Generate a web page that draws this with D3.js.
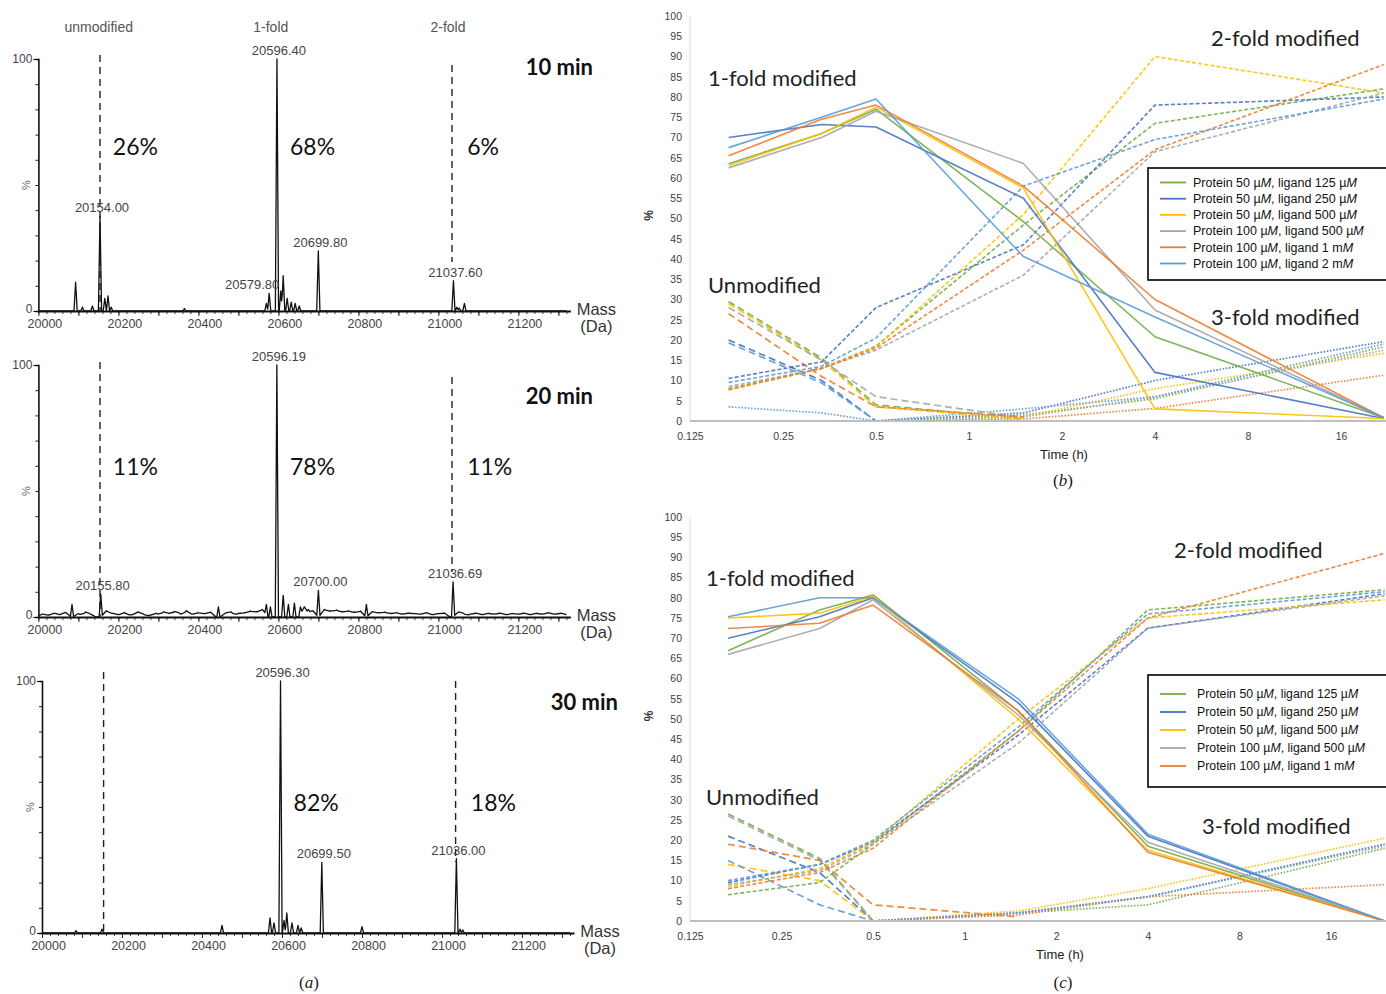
<!DOCTYPE html>
<html><head><meta charset="utf-8">
<script src="https://cdn.jsdelivr.net/npm/d3@7/dist/d3.min.js"></script>
<style>
html,body{margin:0;padding:0;background:#fff;}
svg{display:block;}
</style></head>
<body>
<svg id="fig" width="1386" height="994" xmlns="http://www.w3.org/2000/svg"></svg>
<script>
// ================= Panel (a): deconvoluted mass spectra =================
const massTicks = [20000, 20200, 20400, 20600, 20800, 21000, 21200];
const spectrumTimes = ["10 min", "20 min", "30 min"];
const speciesHeaders = ["unmodified", "1-fold", "2-fold"];
const headerMasses = [20151, 20581, 21024];
const refLineMasses = [20154, 21034];
const pctMasses = [20186, 20629, 21072];
const pct10 = ["26%", "68%", "6%"];
const pct20 = ["11%", "78%", "11%"];
const pct30 = ["", "82%", "18%"];

// [mass (Da), relative intensity (%)]
const peaks10 = [[20093, 11.4], [20110, 1.5], [20135, 2], [20154, 37.6], [20166, 5], [20174, 6], [20182, 1.5],
  [20365, 1], [20570, 3], [20577, 7], [20596.4, 100], [20606, 8], [20612, 14], [20622, 5], [20632, 3.5],
  [20642, 3], [20652, 2], [20699.8, 23.8], [21037.6, 12], [21046, 1.5], [21052, 1.2], [21065, 3]];
const peaks20 = [[20084, 5], [20155.8, 9.2], [20450, 4], [20570, 5], [20580, 4], [20596.19, 100], [20612, 8.6],
  [20625, 5], [20640, 5.5], [20655, 4], [20700, 10.6], [20820, 5], [21036.69, 13.9]];
const noise20 = [[20010, 1.2], [20025, 0.8], [20040, 1.5], [20055, 1], [20068, 1.8], [20100, 1.4], [20118, 2],
  [20130, 1.2], [20170, 2.5], [20185, 1.5], [20200, 1], [20215, 1.8], [20232, 1], [20248, 2], [20262, 1.2],
  [20280, 0.8], [20295, 1.5], [20312, 2], [20325, 1.5], [20340, 2.2], [20352, 1.6], [20370, 2.5], [20385, 1.2],
  [20400, 1.8], [20415, 1.4], [20430, 2], [20468, 1.6], [20482, 2], [20500, 1.5], [20515, 1.8], [20530, 2.4],
  [20545, 2.2], [20560, 3], [20665, 4], [20675, 3], [20686, 2.5], [20715, 3], [20730, 2.5], [20745, 2.8],
  [20760, 2.2], [20775, 2.5], [20790, 2], [20805, 2.4], [20835, 2.2], [20850, 1.8], [20865, 2], [20880, 1.5],
  [20895, 1.8], [20910, 1.2], [20925, 1.6], [20940, 1.4], [20955, 1.2], [20970, 1.8], [20985, 1], [21000, 1.4],
  [21015, 1.6], [21050, 2], [21062, 1.5], [21080, 1.2], [21095, 1.6], [21110, 1], [21125, 1.5], [21140, 1.2],
  [21155, 1.6], [21170, 1], [21185, 1.4], [21200, 1.2], [21215, 1.6], [21230, 1], [21245, 1.5], [21260, 1.2],
  [21275, 1.8], [21290, 1.2], [21305, 1.5], [21318, 1]];
const peaks30 = [[20085, 1], [20150, 1.5], [20450, 3], [20570, 6], [20580, 4], [20596.3, 100], [20605, 5],
  [20612, 8], [20625, 4], [20640, 3], [20648, 2], [20699.5, 28], [20800, 2.5], [21036, 29.5], [21045, 1.5], [21052, 1.2]];

const labels10 = [["20154.00", 20154], ["20596.40", 20596.4], ["20579.80", 20579.8], ["20699.80", 20699.8], ["21037.60", 21037.6]];
const labels20 = [["20155.80", 20155.8], ["20596.19", 20596.19], ["20700.00", 20700], ["21036.69", 21036.69]];
const labels30 = [["20596.30", 20596.3], ["20699.50", 20699.5], ["21036.00", 21036]];

// ================= Panels (b), (c): kinetics =================
const timeTicks = [0.125, 0.25, 0.5, 1, 2, 4, 8, 16];
const pctTicks = [0, 5, 10, 15, 20, 25, 30, 35, 40, 45, 50, 55, 60, 65, 70, 75, 80, 85, 90, 95, 100];
const legendB = ["Protein 50 µM, ligand 125 µM", "Protein 50 µM, ligand 250 µM", "Protein 50 µM, ligand 500 µM",
  "Protein 100 µM, ligand 500 µM", "Protein 100 µM, ligand 1 mM", "Protein 100 µM, ligand 2 mM"];
const legendC = legendB.slice(0, 5);

// time points (h): 10 min, 20 min, 30 min, 1.5 h, 4 h, final
const timesB = [1 / 6, 1 / 3, 0.5, 1.5, 4, 22];
// rows = conditions in legend order
const unmodB = [[29.5, 15.5, 4, 0.5], [20, 10, 0, 0], [29, 15, 3.5, 0.5], [28, 15, 6, 0.8], [26.5, 11, 3.5, 1], [19.3, 9.4, 0, 0]];
const oneB = [[63.5, 71, 77, 49.2, 20.8, 0.8], [70, 73.2, 72.6, 55, 12, 0.6], [63, 71, 77.5, 57.5, 3, 0.6],
  [62.5, 70, 76.5, 63.6, 27.4, 0.8], [65.5, 74.5, 78, 58, 30, 0.8], [67.5, 75, 79.5, 40.6, 25.7, 0.8]];
const twoB = [[8, 13, 18.5, 48.4, 73.5, 82], [10.5, 14.6, 28, 43.5, 78, 80], [7.7, 13, 18.3, 51, 90, 81],
  [8.5, 13, 17.5, 36, 66.5, 81], [7.7, 13, 18, 42.2, 67, 88], [9.5, 13.5, 20.5, 58, 69.5, 79.5]];
const threeB = [[0, 0, 0, 1.5, 5.5, 18.3], [0, 0, 0, 2, 10, 19.6], [0, 0, 0, 1, 8, 16.7],
  [0, 0, 0, 1, 6, 17.5], [0, 0, 0, 0.5, 3.1, 11.3], [3.5, 2, 0, 3, 6, 19]];

const timesC = [1 / 6, 1 / 3, 0.5, 1.5, 4, 24];
const unmodC = [[26.5, 15.5, 0], [21, 12, 0], [14, 10, 0], [26, 15, 0], [19, 15, 4, 1], [15, 4, 0]];
const oneC = [[66.9, 77, 80.7, 52, 18.5, 0], [70, 75.3, 80, 54, 21, 0], [75, 76.2, 80.3, 50, 17.5, 0],
  [66, 72.4, 79.5, 51, 19.5, 0], [72.4, 73.7, 78.2, 52, 17, 0], [75.3, 80, 80, 55, 21.5, 0]];
const twoC = [[6.5, 9.5, 19, 47, 77, 82], [9.5, 14, 19.5, 46, 72.5, 81], [8.5, 13, 19.5, 50, 75, 79.5],
  [9, 12.5, 19, 44, 72.5, 80.5], [8, 12, 18, 47, 75, 91], [10, 14, 20, 48, 76, 81.5]];
const threeC = [[0, 0, 0, 2, 4, 18], [0, 0, 0, 2, 6, 19], [0, 0, 0, 2.5, 8, 20.5],
  [0, 0, 0, 2, 6, 18.5], [0, 0, 0, 1.5, 6, 9], [0, 0, 0, 2, 6, 19]];

// ================= drawing =================
const svg = d3.select("#fig");
svg.append("rect").attr("width", 1386).attr("height", 994).attr("fill", "#fff");

const SANS = "'Liberation Sans', Arial, sans-serif";
const NARROW = "'Liberation Sans Narrow', 'Arial Narrow', 'Liberation Sans', Arial, sans-serif";
const CAL = "Lato, 'Open Sans', sans-serif";
const SERIF = "'Liberation Serif', 'DejaVu Serif', serif";

// ---------- panel (a) ----------
const specLayout = [
  {top: 59, bottom: 311, x0: 38.4, refTop: [55, 65], refBot: [311, 262], pctY: 155, timeX: 593, timeY: 75},
  {top: 365, bottom: 617, x0: 38.4, refTop: [362, 377], refBot: [617, 572], pctY: 475, timeX: 593, timeY: 404},
  {top: 681, bottom: 933, x0: 42, refTop: [672, 681], refBot: [933, 862], pctY: 811, timeX: 618, timeY: 710}
];
const specPeaks = [peaks10, peaks20.concat(noise20.map(p => [p[0], p[1], 14])), peaks30];
const specLabels = [labels10, labels20, labels30];
const specPct = [pct10, pct20, pct30];

function spectrumPoints(peaks, lo, hi, hw) {
  const xs = new Set([lo, hi]);
  peaks.forEach(p => { const w = p[2] || hw; xs.add(p[0] - w); xs.add(p[0]); xs.add(p[0] + w); });
  const arr = Array.from(xs).filter(v => v >= lo && v <= hi).sort((a, b) => a - b);
  return arr.map(m => {
    let v = 0;
    peaks.forEach(p => {
      const w = p[2] || hw;
      const t = p[1] * Math.max(0, 1 - Math.abs(m - p[0]) / w);
      if (t > v) v = t;
    });
    return [m, v];
  });
}

specLayout.forEach((L, i) => {
  const g = svg.append("g");
  const x = d3.scaleLinear().domain([20000, 21330]).range([L.x0, L.x0 + 532]);
  const y = d3.scaleLinear().domain([0, 100]).range([L.bottom, L.top]);

  // minor x ticks
  const xMinor = d3.axisBottom(x).tickValues(d3.range(20000, 21321, 20)).tickSize(3).tickFormat("");
  g.append("g").attr("transform", `translate(0,${L.bottom})`).call(xMinor)
    .call(s => s.select(".domain").remove())
    .call(s => s.selectAll("line").attr("stroke", "#222").attr("stroke-width", 0.9));
  const xMajor = d3.axisBottom(x).tickValues(d3.range(20000, 21301, 100)).tickSize(5).tickFormat("");
  g.append("g").attr("transform", `translate(0,${L.bottom})`).call(xMajor)
    .call(s => s.select(".domain").remove())
    .call(s => s.selectAll("line").attr("stroke", "#222").attr("stroke-width", 1));
  const xAx = d3.axisBottom(x).tickValues(massTicks).tickSize(0).tickPadding(8).tickFormat(d3.format("d"));
  g.append("g").attr("transform", `translate(0,${L.bottom})`).call(xAx)
    .call(s => s.select(".domain").attr("stroke", "#111").attr("stroke-width", 2))
    .call(s => s.selectAll("text").attr("font-family", NARROW).attr("font-size", 12.5).attr("fill", "#444")
      .attr("dx", 6));

  // y axis
  const yMinor = d3.axisLeft(y).tickValues(d3.range(0, 101, 10)).tickSize(3).tickFormat("");
  g.append("g").attr("transform", `translate(${L.x0},0)`).call(yMinor)
    .call(s => s.select(".domain").attr("stroke", "#111").attr("stroke-width", 1.6))
    .call(s => s.selectAll("line").attr("stroke", "#222"));
  const yMaj = d3.axisLeft(y).tickValues([0, 100]).tickSize(5).tickPadding(1).tickFormat(d3.format("d"));
  g.append("g").attr("transform", `translate(${L.x0},0)`).call(yMaj)
    .call(s => s.select(".domain").remove())
    .call(s => s.selectAll("text").attr("font-family", NARROW).attr("font-size", 12).attr("fill", "#444"))
    .call(s => s.selectAll(".tick").filter(d => d === 0).select("text").attr("dy", "0.1em"));
  g.append("text").attr("transform", `translate(${L.x0 - 8},${y(50)}) rotate(-90)`)
    .attr("text-anchor", "middle").attr("font-family", SANS).attr("font-size", 11).attr("fill", "#666").text("%");

  // Mass (Da)
  g.append("text").attr("x", L.x0 + 558).attr("y", L.bottom + 4).attr("text-anchor", "middle")
    .attr("font-family", NARROW).attr("font-size", 16.5).attr("fill", "#333").text("Mass");
  g.append("text").attr("x", L.x0 + 558).attr("y", L.bottom + 21).attr("text-anchor", "middle")
    .attr("font-family", NARROW).attr("font-size", 16.5).attr("fill", "#333").text("(Da)");

  // reference dashed lines
  refLineMasses.forEach((m, k) => {
    g.append("line").attr("x1", x(m)).attr("x2", x(m)).attr("y1", L.refTop[k]).attr("y2", L.refBot[k])
      .attr("stroke", "#222").attr("stroke-width", 1.4).attr("stroke-dasharray", "7,5");
  });

  // spectrum
  const pts = spectrumPoints(specPeaks[i], 20000, 21320, 4);
  g.append("path").datum(pts)
    .attr("d", d3.line().x(d => x(d[0])).y(d => y(d[1])))
    .attr("fill", "none").attr("stroke", "#111").attr("stroke-width", 1.3).attr("stroke-linejoin", "round");

  // peak labels
  specLabels[i].forEach(([t, m]) => {
    const pk = specPeaks[i].reduce((a, p) => Math.abs(p[0] - m) < Math.abs(a[0] - m) ? p : a);
    const isEnd = t === "20579.80";
    g.append("text").attr("x", isEnd ? x(m) + 9 : x(m) + 2).attr("y", y(pk[1]) - 4)
      .attr("text-anchor", isEnd ? "end" : "middle")
      .attr("font-family", NARROW).attr("font-size", 13).attr("fill", "#444").text(t);
  });

  // percentages
  specPct[i].forEach((t, k) => {
    if (!t) return;
    g.append("text").attr("x", x(pctMasses[k])).attr("y", L.pctY)
      .attr("font-family", CAL).attr("font-size", 23).attr("fill", "#111").text(t);
  });

  // time label
  g.append("text").attr("x", L.timeX).attr("y", L.timeY).attr("text-anchor", "end")
    .attr("font-family", CAL).attr("font-weight", "bold").attr("font-size", 22).attr("fill", "#111")
    .text(spectrumTimes[i]);

  if (i === 0) {
    speciesHeaders.forEach((t, k) => {
      g.append("text").attr("x", x(headerMasses[k])).attr("y", 32).attr("text-anchor", "middle")
        .attr("font-family", NARROW).attr("font-size", 14).attr("fill", "#555").text(t);
    });
  }
});

function panelTag(x, y, letter) {
  const t = svg.append("text").attr("x", x).attr("y", y).attr("text-anchor", "middle")
    .attr("font-family", SERIF).attr("font-size", 17).attr("fill", "#222");
  t.append("tspan").text("(");
  t.append("tspan").attr("font-style", "italic").text(letter);
  t.append("tspan").text(")");
}
panelTag(309, 988, "a");

// ---------- panels (b), (c) ----------
const colors = ["#70AD47", "#4472C4", "#FFC000", "#A5A5A5", "#ED7D31", "#5B9BD5"];

function kinetics(cfg) {
  const g = svg.append("g");
  const x = d3.scaleLog().base(2).domain([0.125, 16]).range([cfg.xl, cfg.x16]);
  const y = d3.scaleLinear().domain([0, 100]).range([cfg.y0, cfg.y100]);

  // y axis
  g.append("line").attr("x1", cfg.xl).attr("x2", cfg.xl).attr("y1", cfg.y0).attr("y2", cfg.y100)
    .attr("stroke", "#D9D9D9").attr("stroke-width", 1);
  const yAx = d3.axisLeft(y).tickValues(pctTicks).tickSize(0).tickPadding(8);
  g.append("g").attr("transform", `translate(${cfg.xl},0)`).call(yAx)
    .call(s => s.select(".domain").remove())
    .call(s => s.selectAll("text").attr("font-family", NARROW).attr("font-size", 10.5).attr("fill", "#404040"));
  // x axis
  const xAx = d3.axisBottom(x).tickValues(timeTicks).tickSize(0).tickPadding(12).tickFormat(d => String(d));
  g.append("g").attr("transform", `translate(0,${cfg.y0})`).call(xAx)
    .call(s => s.select(".domain").remove())
    .call(s => s.selectAll("text").attr("font-family", NARROW).attr("font-size", 10.5).attr("fill", "#404040"));

  const line = d3.line().x(d => x(d[0])).y(d => y(d[1]));
  const styles = [
    {data: cfg.three, dash: "1.6,1.6", w: 1.7},
    {data: cfg.unmod, dash: "7,4", w: 1.7},
    {data: cfg.two, dash: "4,2.2", w: 1.6},
    {data: cfg.one, dash: null, w: 1.6}
  ];
  styles.forEach(st => {
    st.data.forEach((vals, s) => {
      const pts = vals.map((v, k) => [cfg.times[k], v]);
      const p = g.append("path").datum(pts).attr("d", line).attr("fill", "none")
        .attr("stroke", colors[s]).attr("stroke-width", st.w).attr("stroke-opacity", 0.9)
        .attr("stroke-linejoin", "round");
      if (st.dash) p.attr("stroke-dasharray", st.dash);
    });
  });
  // x axis line
  g.append("line").attr("x1", cfg.xl).attr("x2", 1386).attr("y1", cfg.y0).attr("y2", cfg.y0)
    .attr("stroke", "#BFBFBF").attr("stroke-width", 2);

  // labels
  cfg.texts.forEach(([t, tx, ty]) => {
    g.append("text").attr("x", tx).attr("y", ty).attr("font-family", CAL).attr("font-size", 22)
      .attr("fill", "#222").text(t);
  });
  g.append("text").attr("transform", `translate(${cfg.pctX},${y(50) - 3}) rotate(-90)`).attr("text-anchor", "middle")
    .attr("font-family", SANS).attr("font-weight", "bold").attr("font-size", 12).attr("fill", "#333").text("%");
  g.append("text").attr("x", cfg.timeX).attr("y", cfg.y0 + 38).attr("text-anchor", "middle")
    .attr("font-family", NARROW).attr("font-size", 13).attr("fill", "#222").text("Time (h)");

  // legend
  const lg = g.append("g");
  lg.append("rect").attr("x", cfg.lx).attr("y", cfg.ly).attr("width", 300).attr("height", cfg.lh)
    .attr("fill", "#fff").attr("stroke", "#000").attr("stroke-width", 1.6);
  cfg.legend.forEach((lab, k) => {
    const ry = cfg.ly + cfg.lr0 + k * cfg.lstep;
    lg.append("line").attr("x1", cfg.lx + 12).attr("x2", cfg.lx + 38).attr("y1", ry).attr("y2", ry)
      .attr("stroke", colors[k]).attr("stroke-width", 1.8);
    const t = lg.append("text").attr("x", cfg.ltx).attr("y", ry + 4.3)
      .attr("font-family", SANS).attr("font-size", cfg.lfs).attr("fill", "#111");
    const parts = lab.split("M");
    parts.forEach((p, j) => {
      t.append("tspan").text(p);
      if (j < parts.length - 1) t.append("tspan").attr("font-style", "italic").text("M");
    });
  });
}

kinetics({
  xl: 690, x16: 1341, y0: 421, y100: 16, times: timesB,
  unmod: unmodB, one: oneB, two: twoB, three: threeB,
  texts: [["1-fold modified", 708, 86], ["2-fold modified", 1211, 46], ["Unmodified", 708, 293], ["3-fold modified", 1211, 325]],
  pctX: 653, timeX: 1064,
  legend: legendB, lx: 1148, ly: 168, lh: 112, lr0: 14.5, lstep: 16.2, ltx: 1193, lfs: 12.5
});
panelTag(1063, 486, "b");

kinetics({
  xl: 690, x16: 1331, y0: 921, y100: 517, times: timesC,
  unmod: unmodC, one: oneC, two: twoC, three: threeC,
  texts: [["1-fold modified", 706, 586], ["2-fold modified", 1174, 558], ["Unmodified", 706, 805], ["3-fold modified", 1202, 834]],
  pctX: 653, timeX: 1060,
  legend: legendC, lx: 1148, ly: 675, lh: 112, lr0: 19, lstep: 18, ltx: 1197, lfs: 12.3
});
panelTag(1063, 988, "c");
</script>
</body></html>
